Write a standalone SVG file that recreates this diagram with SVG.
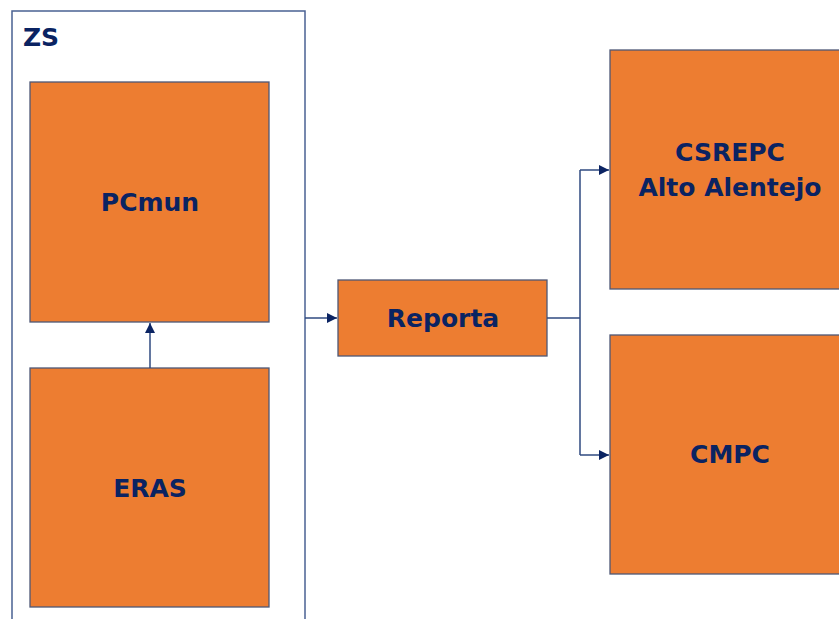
<svg xmlns="http://www.w3.org/2000/svg" width="839" height="619" viewBox="0 0 839 619">
<defs>
<style>
.box{fill:#ED7D31;stroke:#4E5876;stroke-width:1.3}
.lbl{font-family:"DejaVu Sans",sans-serif;font-weight:bold;font-size:25px;fill:#0A2362;text-anchor:middle;dominant-baseline:central}
.con{fill:none;stroke:#2F4A80;stroke-width:1.5}
</style>
<marker id="ah" viewBox="0 0 10 10" refX="10" refY="5" markerWidth="10" markerHeight="10" orient="auto" markerUnits="userSpaceOnUse">
<path d="M0,0 L10,5 L0,10 z" fill="#0B2463"/>
</marker>
</defs>
<rect width="839" height="619" fill="#fff"/>
<g id="zs">
<rect x="12" y="11" width="293" height="620" fill="none" stroke="#4A6193" stroke-width="1.5"/>
<text class="lbl" x="41" y="37">ZS</text>
</g>
<g id="pcmun">
<rect class="box" x="30" y="82" width="239" height="240"/>
<text class="lbl" x="150" y="202">PCmun</text>
</g>
<g id="eras">
<rect class="box" x="30" y="368" width="239" height="239"/>
<text class="lbl" x="150" y="488">ERAS</text>
</g>
<g id="reporta">
<rect class="box" x="338" y="280" width="209" height="76"/>
<text class="lbl" x="443" y="318">Reporta</text>
</g>
<g id="csrepc">
<rect class="box" x="610" y="50" width="240" height="239"/>
<text class="lbl" x="730" y="152">CSREPC</text>
<text class="lbl" x="730" y="187">Alto Alentejo</text>
</g>
<g id="cmpc">
<rect class="box" x="610" y="335" width="240" height="239"/>
<text class="lbl" x="730" y="454">CMPC</text>
</g>
<g id="connectors">
<path class="con" d="M150,368 V323" marker-end="url(#ah)"/>
<path class="con" d="M305,318 H337" marker-end="url(#ah)"/>
<path class="con" d="M547,318 H580"/>
<path class="con" d="M580,170 V455"/>
<path class="con" d="M580,170 H609" marker-end="url(#ah)"/>
<path class="con" d="M580,455 H609" marker-end="url(#ah)"/>
</g>
</svg>
